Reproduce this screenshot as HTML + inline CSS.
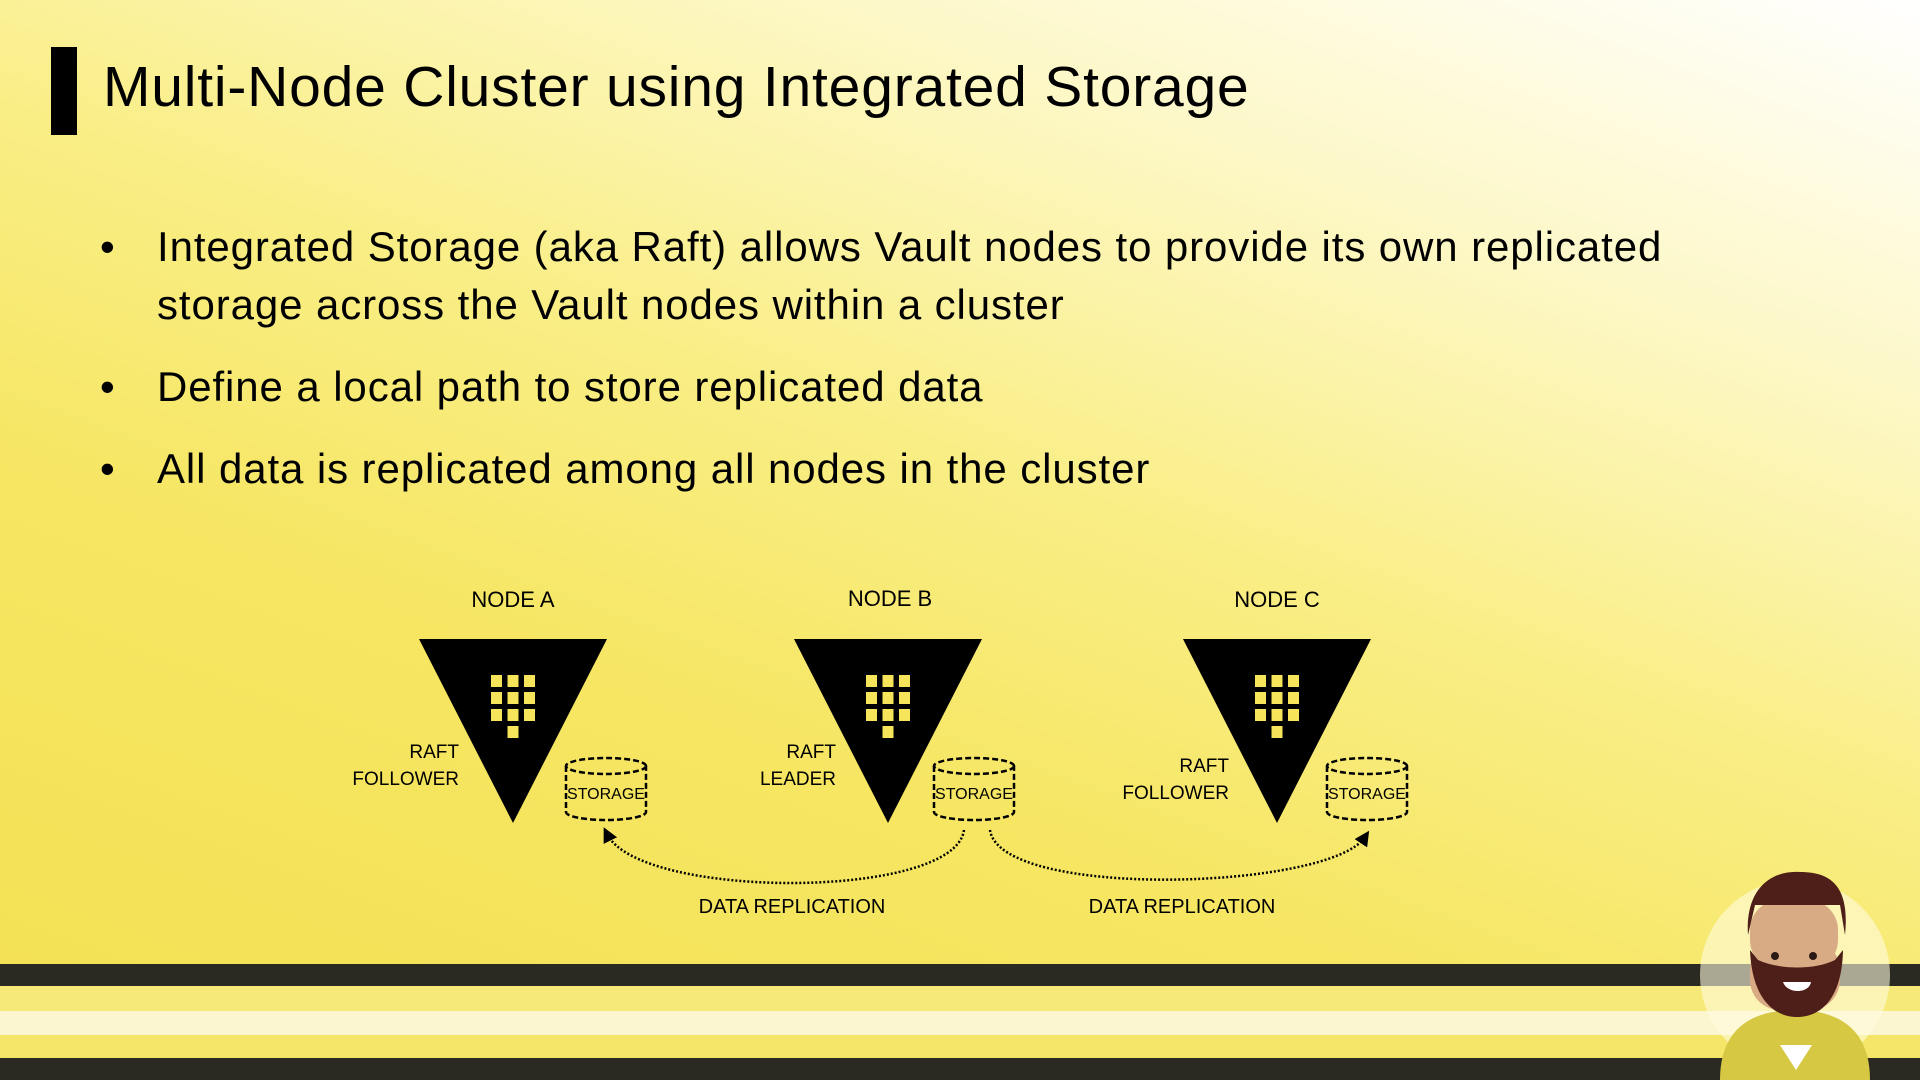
<!DOCTYPE html>
<html><head><meta charset="utf-8"><style>
html,body{margin:0;padding:0}
body{width:1920px;height:1080px;position:relative;overflow:hidden;font-family:"Liberation Sans",sans-serif;
background:linear-gradient(200deg,#ffffff 0%,#fdf8c8 22%,#f9ee86 45%,#f6e663 65%,#f3e052 100%);}
.t{position:absolute;white-space:nowrap;color:#000}
.bar{position:absolute;left:51px;top:47px;width:26px;height:88px;background:#000}
ul{position:absolute;left:100px;top:218px;margin:0;padding:0;list-style:none;font-size:42px;line-height:58px;letter-spacing:0.9px}
li{position:relative;padding-left:57px}
li:before{content:"•";position:absolute;left:0}
.s{position:absolute;left:0;width:1920px}
</style></head><body>
<div class="bar"></div>
<div class="t" style="left:103px;top:54px;font-size:57px;letter-spacing:0.8px">Multi-Node Cluster using Integrated Storage</div>
<ul>
<li>Integrated Storage (aka Raft) allows Vault nodes to provide its own replicated<br>storage across the Vault nodes within a cluster</li>
<li style="margin-top:24px">Define a local path to store replicated data</li>
<li style="margin-top:24px">All data is replicated among all nodes in the cluster</li>
</ul>
<div class="s" style="top:964px;height:22px;background:#2b2a22"></div>
<div class="s" style="top:986px;height:25px;background:#f7e977"></div>
<div class="s" style="top:1011px;height:24px;background:#fbf6cf"></div>
<div class="s" style="top:1035px;height:23px;background:#f5e66a"></div>
<div class="s" style="top:1058px;height:22px;background:#2b2a22"></div>
<svg width="1920" height="1080" style="position:absolute;left:0;top:0" font-family="Liberation Sans, sans-serif">
<defs><g id="grid" fill="#f6e45a">
<rect x="-22" y="0" width="11" height="12"/><rect x="-5.5" y="0" width="11" height="12"/><rect x="11" y="0" width="11" height="12"/>
<rect x="-22" y="17" width="11" height="12"/><rect x="-5.5" y="17" width="11" height="12"/><rect x="11" y="17" width="11" height="12"/>
<rect x="-22" y="34" width="11" height="12"/><rect x="-5.5" y="34" width="11" height="12"/><rect x="11" y="34" width="11" height="12"/>
<rect x="-5.5" y="51" width="11" height="12"/></g>
<g id="cyl" fill="none" stroke="#000" stroke-width="2.5" stroke-dasharray="6,3">
<ellipse cx="0" cy="8" rx="40" ry="8"/><path d="M-40 8V54A40 8 0 0 0 40 54V8"/></g>
<marker id="ar" markerWidth="6" markerHeight="6" refX="3" refY="3" orient="auto"><path d="M0 0L6 3L0 6z" fill="#000"/></marker></defs>
<g>
<polygon points="419,639 607,639 513,823" fill="#000"/>
<polygon points="794,639 982,639 888,823" fill="#000"/>
<polygon points="1183,639 1371,639 1277,823" fill="#000"/>
</g>
<use href="#grid" x="513" y="675"/><use href="#grid" x="888" y="675"/><use href="#grid" x="1277" y="675"/>
<use href="#cyl" x="606" y="758"/><use href="#cyl" x="974" y="758"/><use href="#cyl" x="1367" y="758"/>
<g font-size="16" text-anchor="middle"><text x="606" y="799">STORAGE</text><text x="974" y="799">STORAGE</text><text x="1367" y="799">STORAGE</text></g>
<g font-size="22" text-anchor="middle"><text x="513" y="607">NODE A</text><text x="890" y="606">NODE B</text><text x="1277" y="607">NODE C</text></g>
<g font-size="19" text-anchor="end">
<text x="459" y="758">RAFT</text><text x="459" y="785">FOLLOWER</text>
<text x="836" y="758">RAFT</text><text x="836" y="785">LEADER</text>
<text x="1229" y="772">RAFT</text><text x="1229" y="799">FOLLOWER</text></g>
<g fill="none" stroke="#000" stroke-width="2.5" stroke-dasharray="2,2">
<path d="M964 830C955 900 640 900 607 834" marker-end="url(#ar)"/>
<path d="M990 830C1000 900 1330 890 1365 837" marker-end="url(#ar)"/>
</g>
<g font-size="20" text-anchor="middle"><text x="792" y="913">DATA REPLICATION</text><text x="1182" y="913">DATA REPLICATION</text></g>
<g>
<circle cx="1795" cy="975" r="95" fill="#fffbe0" opacity="0.6"/>
<path d="M1720 1080C1720 1030 1750 1010 1795 1010C1840 1010 1870 1030 1870 1080z" fill="#d6c843"/>
<polygon points="1780,1045 1812,1045 1796,1070" fill="#fff"/>
<rect x="1750" y="940" width="90" height="70" rx="30" fill="#d9ab85"/>
<rect x="1750" y="900" width="88" height="70" rx="30" fill="#d9ab85"/>
<path d="M1748 935C1745 890 1770 870 1800 872C1830 872 1850 885 1845 935L1840 905L1755 905z" fill="#4e1e18"/>
<path d="M1750 950C1752 1000 1775 1017 1797 1017C1820 1017 1842 1000 1843 950L1835 960C1815 970 1780 970 1758 960z" fill="#4e1e18"/>
<circle cx="1775" cy="956" r="4" fill="#2a1a14"/><circle cx="1813" cy="956" r="4" fill="#2a1a14"/>
<path d="M1783 982h28c-2 12-24 12-28 0z" fill="#fff"/>
</g>
</svg>
</body></html>
